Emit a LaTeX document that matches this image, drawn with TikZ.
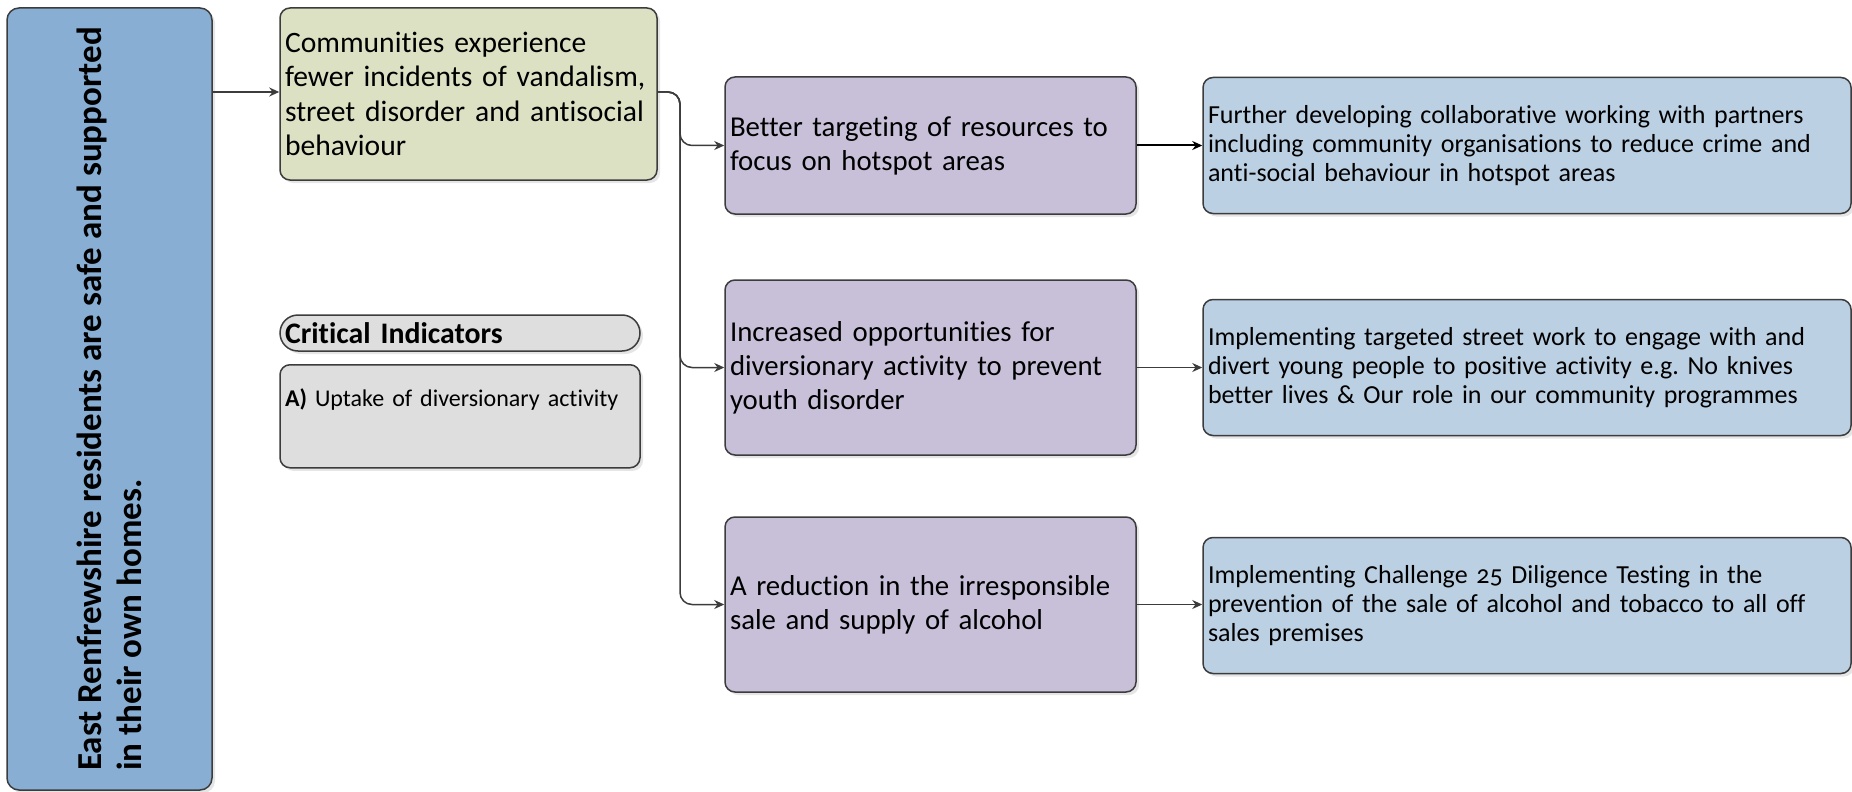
\documentclass[tikz,border=0pt]{standalone}
\usepackage{fontspec}
\setmainfont{Carlito}[Numbers=OldStyle, Ligatures=NoCommon]
\usepackage{tikz}
\usetikzlibrary{arrows.meta,positioning,calc,shadows}
\usepackage{xcolor}
\definecolor{edgegray}{HTML}{3C3C3C}
\definecolor{goalblue}{HTML}{88AED3}
\definecolor{outgreen}{HTML}{DCE1C3}
\definecolor{aimpurple}{HTML}{C8BFD9}
\definecolor{actblue}{HTML}{BCD0E3}
\definecolor{indgray}{HTML}{DEDEDE}

\begin{document}
\begin{tikzpicture}[
    x=0.5pt, y=-0.5pt,
    box/.style={rectangle, draw=edgegray, line width=0.75pt, rounded corners=5pt, align=left,
        text width=#1, inner xsep=2.5pt, inner ysep=2pt,
        drop shadow={shadow xshift=1.5pt, shadow yshift=-1.5pt, fill=black!20, opacity=0.5}},
    outcome/.style={box=183.5pt, fill=outgreen, minimum height=86pt, font=\fontsize{14.8}{17.3}\selectfont},
    aim/.style={box=200.5pt, fill=aimpurple, font=\fontsize{14.4}{17}\selectfont},
    action/.style={box=319pt, fill=actblue, minimum height=68pt, font=\fontsize{13}{14.5}\selectfont},
    link/.style={draw=edgegray, line width=0.75pt, rounded corners=6pt, -{Stealth[length=5pt, width=4.5pt]}}
]
\useasboundingbox (0,0) rectangle (1852,792);

% Goal (rotated)
\node[rectangle, draw=edgegray, line width=0.75pt, rounded corners=6pt, fill=goalblue, rotate=90,
    minimum width=391pt, minimum height=102.5pt, align=left, font=\fontsize{17.5}{20}\selectfont\bfseries,
    drop shadow={shadow xshift=1.5pt, shadow yshift=-1.5pt, fill=black!20, opacity=0.5}] (goal) at (109.5, 399)
    {East Renfrewshire residents are safe and supported\\in their own homes.};

% Outcome
\node[outcome] (comm) at (468.5, 94)
    {Communities experience\\fewer incidents of vandalism,\\street disorder and antisocial\\behaviour};

% Critical indicators
\node[box=175pt, fill=indgray, rounded corners=9pt, minimum height=18pt, inner ysep=0pt,
    font=\fontsize{14.9}{16}\selectfont\bfseries] (crit) at (460, 333) {Critical Indicators};
\node[box=175pt, fill=indgray, anchor=north, inner ysep=3pt, text height=18pt, text depth=27.5pt,
    font=\fontsize{12}{13}\selectfont] (ind) at (460, 364) {\textbf{A)} Uptake of diversionary activity};

% Intermediate outcomes
\node[aim, minimum height=68.5pt] (better) at (930.5, 145.5)
    {Better targeting of resources to\\focus on hotspot areas};
\node[aim, minimum height=87.5pt] (youth) at (930.5, 367.5)
    {Increased opportunities for\\diversionary activity to prevent\\youth disorder};
\node[aim, minimum height=87.5pt] (alcohol) at (930.5, 604.5)
    {A reduction in the irresponsible\\sale and supply of alcohol};

% Actions
\node[action] (partners) at (1527, 145.5)
    {Further developing collaborative working with partners\\including community organisations to reduce crime and\\anti-social behaviour in hotspot areas};
\node[action] (street) at (1527, 367.5)
    {Implementing targeted street work to engage with and\\divert young people to positive activity e.g.\ No knives\\better lives \& Our role in our community programmes};
\node[action] (diligence) at (1527, 605.5)
    {Implementing Challenge 25 Diligence Testing in the\\prevention of the sale of alcohol and tobacco to all off\\sales premises};

% -- Arrows --
\coordinate (split) at (680, 92);
\draw[link] (goal.south |- split) -- (comm.west |- split);
\draw[link] (comm.east |- split) -| (split |- better.west) -- (better.west);
\draw[link] (comm.east |- split) -| (split |- youth.west) -- (youth.west);
\draw[link] (comm.east |- split) -| (split |- alcohol.west) -- (alcohol.west);
\draw[link, draw=black, line width=1pt] (better) -- (partners);
\draw[link] (youth) -- (street);
\draw[link] (alcohol) -- (alcohol -| diligence.west);

\end{tikzpicture}
\end{document}
